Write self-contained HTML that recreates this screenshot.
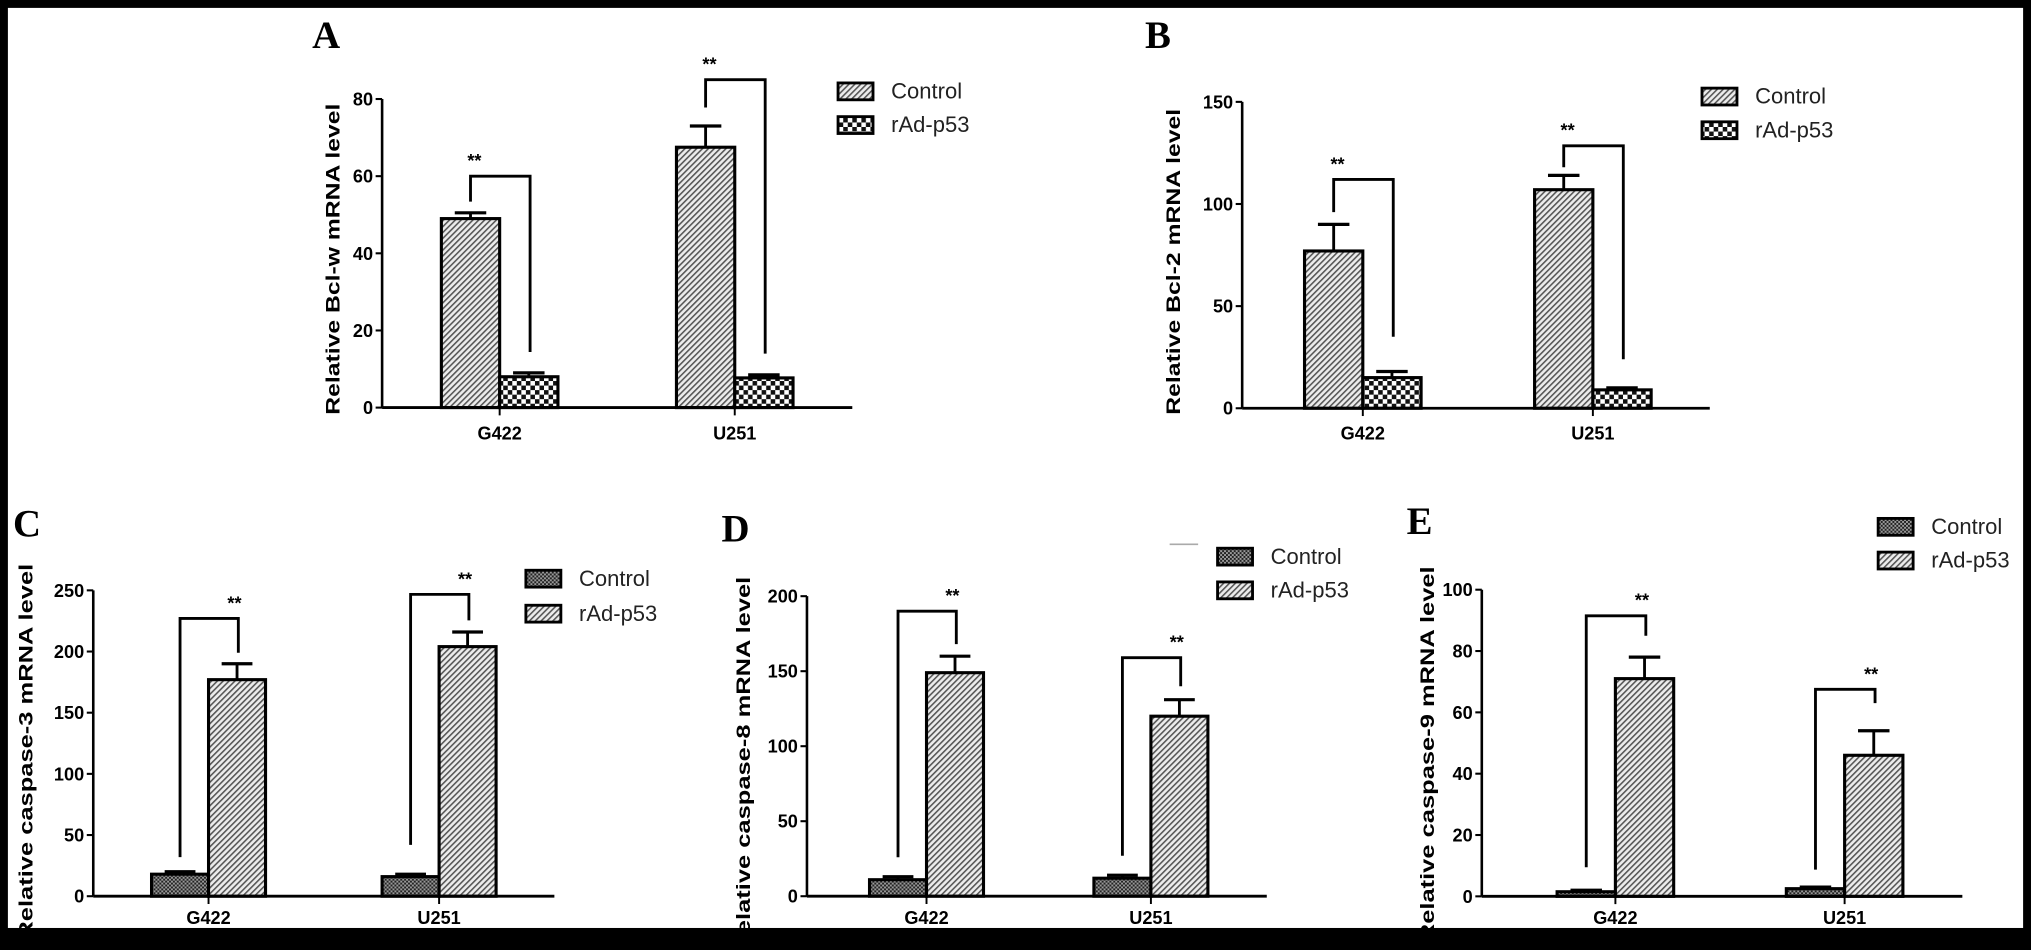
<!DOCTYPE html>
<html><head><meta charset="utf-8"><style>
html,body{margin:0;padding:0;background:#000;}
svg{display:block;}
text{font-family:"Liberation Sans",sans-serif;}
</style></head><body>
<svg id="fig" width="2031" height="950" viewBox="0 0 1568 733" preserveAspectRatio="none" xmlns="http://www.w3.org/2000/svg">
<defs>
<pattern id="hatch" patternUnits="userSpaceOnUse" width="3.2" height="3.2" patternTransform="rotate(45)">
<rect width="3.2" height="3.2" fill="#ececec"/><rect width="1.2" height="3.2" fill="#555"/>
</pattern>
<pattern id="checker" patternUnits="userSpaceOnUse" width="7" height="7">
<rect width="7" height="7" fill="#fff"/><rect width="3.5" height="3.5" fill="#111"/><rect x="3.5" y="3.5" width="3.5" height="3.5" fill="#111"/>
</pattern>
<pattern id="cross" patternUnits="userSpaceOnUse" width="3" height="3">
<rect width="3" height="3" fill="#999"/><rect width="1.5" height="1.5" fill="#222"/><rect x="1.5" y="1.5" width="1.5" height="1.5" fill="#222"/>
</pattern>
</defs>
<rect x="6" y="6" width="1556" height="710" fill="#fff"/>
</svg>
<script>
// ---- data ----
const categories = ["G422", "U251"];
const seriesNames = ["Control", "rAd-p53"];
const aControl = [49, 67.5];   const aControlErr = [50.5, 73];
const aP53 = [8, 7.7];         const aP53Err = [9, 8.5];
const aTicks = [0, 20, 40, 60, 80];
const bControl = [77, 107];    const bControlErr = [90, 114];
const bP53 = [15, 9];          const bP53Err = [18, 10];
const bTicks = [0, 50, 100, 150];
const cControl = [18, 16];     const cControlErr = [20, 18];
const cP53 = [177, 204];       const cP53Err = [190, 216];
const cTicks = [0, 50, 100, 150, 200, 250];
const dControl = [11, 12];     const dControlErr = [13, 14];
const dP53 = [149, 120];       const dP53Err = [160, 131];
const dTicks = [0, 50, 100, 150, 200];
const eControl = [1.5, 2.5];   const eControlErr = [2, 3];
const eP53 = [71, 46];         const eP53Err = [78, 54];
const eTicks = [0, 20, 40, 60, 80, 100];
// significance brackets in data units: [top, leftBottom, rightBottom]
const aSig = [[60, 53.4, 14.4], [85, 77.8, 14]];
const bSig = [[112, 96, 35], [128.5, 118, 24]];
const cSig = [[227, 32, 199], [246.7, 42, 225.5]];
const dSig = [[190, 26, 168], [159, 27, 140]];
const eSig = [[91.5, 9.5, 85], [67.5, 8.7, 63]];

const NS = "http://www.w3.org/2000/svg";
const svg = document.getElementById("fig");
function mk(tag, attrs, parent, txt) {
  const e = document.createElementNS(NS, tag);
  for (const k in attrs) e.setAttribute(k, attrs[k]);
  if (txt !== undefined) e.textContent = txt;
  (parent || svg).appendChild(e);
  return e;
}

const panels = [
  {id:"a", letter:"A", lx:241, ly:37, x0:295, x1:658, y0:314.5, ymax:80, yTop:76.4, cf:[0.25,0.75], bw:45,
   ctrl:aControl, ctrlErr:aControlErr, p53:aP53, p53Err:aP53Err, ticks:aTicks, sig:aSig,
   fills:["url(#hatch)","url(#checker)"], title:"Relative Bcl-w mRNA level", tcx:257, tcy:200, tlen:240,
   legX:647, legY:[64,90], xlabY:339},
  {id:"b", letter:"B", lx:884, ly:37, x0:959, x1:1320, y0:315, ymax:150, yTop:78.6, cf:[0.258,0.75], bw:45,
   ctrl:bControl, ctrlErr:bControlErr, p53:bP53, p53Err:bP53Err, ticks:bTicks, sig:bSig,
   fills:["url(#hatch)","url(#checker)"], title:"Relative Bcl-2 mRNA level", tcx:906, tcy:202, tlen:236,
   legX:1314, legY:[68,94], xlabY:339},
  {id:"c", letter:"C", lx:10, ly:414, x0:72, x1:428, y0:691.5, ymax:250, yTop:455.5, cf:[0.25,0.75], bw:44,
   ctrl:cControl, ctrlErr:cControlErr, p53:cP53, p53Err:cP53Err, ticks:cTicks, sig:cSig,
   fills:["url(#cross)","url(#hatch)"], title:"Relative caspase-3 mRNA level", tcx:20, tcy:580, tlen:290,
   legX:406, legY:[440,467], xlabY:713},
  {id:"d", letter:"D", lx:557, ly:418, x0:623, x1:978, y0:691.5, ymax:200, yTop:460, cf:[0.26,0.748], bw:44,
   ctrl:dControl, ctrlErr:dControlErr, p53:dP53, p53Err:dP53Err, ticks:dTicks, sig:dSig,
   fills:["url(#cross)","url(#hatch)"], title:"Relative  caspase-8 mRNA level", tcx:574, tcy:590, tlen:290,
   legX:940, legY:[423,449], xlabY:713},
  {id:"e", letter:"E", lx:1086, ly:412, x0:1144, x1:1515, y0:691.6, ymax:100, yTop:455, cf:[0.278,0.755], bw:45,
   ctrl:eControl, ctrlErr:eControlErr, p53:eP53, p53Err:eP53Err, ticks:eTicks, sig:eSig,
   fills:["url(#cross)","url(#hatch)"], title:"Relative  caspase-9 mRNA level", tcx:1102, tcy:582, tlen:290,
   legX:1450, legY:[400,426], xlabY:713}
];

panels.forEach(p => {
  const g = mk("g", {});
  
  
  const ys = v => p.y0 - (v / p.ymax) * (p.y0 - p.yTop);
  const xs = i => p.x0 + p.cf[i] * (p.x1 - p.x0);

  const L = mk("text", {x:p.lx, y:p.ly, "font-size":30, "font-weight":"bold", style:'font-family:"Liberation Serif",serif'}, g, p.letter);
  
  

  categories.forEach((c, i) => {
    const cx = xs(i);
    [[p.ctrl, p.ctrlErr, -1], [p.p53, p.p53Err, 0]].forEach((s, si) => {
      const bx = cx + s[2] * p.bw;
      const top = ys(s[0][i]);
      const eTop = ys(s[1][i]);
      const ex = bx + p.bw / 2;
      const el = mk("line", {x1:ex, x2:ex, y1:top, y2:eTop, stroke:"#000", "stroke-width":2.2}, g);
      
      
      const cap = mk("line", {x1:ex - p.bw * 0.27, x2:ex + p.bw * 0.27, y1:eTop, y2:eTop, stroke:"#000", "stroke-width":2.5}, g);
      
      
      const r = mk("rect", {x:bx, y:top, width:p.bw, height:Math.max(0, p.y0 - top), fill:p.fills[si], stroke:"#000", "stroke-width":2.4}, g);
      
      
    });
    const s = p.sig[i];
    const lx = cx - p.bw / 2, rx = cx + p.bw / 2 + 1;
    const br = mk("polyline", {points:`${lx},${ys(s[1])} ${lx},${ys(s[0])} ${rx},${ys(s[0])} ${rx},${ys(s[2])}`, fill:"none", stroke:"#000", "stroke-width":2.2}, g);
    
    
    const starX = p.id === "a" || p.id === "b" ? lx + 3 : rx - 3;
    const st = mk("text", {x:starX, y:ys(s[0]) - 7, "font-size":14, "font-weight":"bold", "text-anchor":"middle"}, g, "**");
    
    
    const xl = mk("text", {x:cx, y:p.xlabY, "font-size":14, "font-weight":"bold", "text-anchor":"middle"}, g, c);
    
    
    const xt = mk("line", {x1:cx, x2:cx, y1:p.y0, y2:p.y0 + 6, stroke:"#000", "stroke-width":1.5}, g);
    
    
  });

  const ya = mk("line", {x1:p.x0, x2:p.x0, y1:p.yTop, y2:p.y0, stroke:"#000", "stroke-width":2}, g);
  
  
  const xa = mk("line", {x1:p.x0, x2:p.x1, y1:p.y0, y2:p.y0, stroke:"#000", "stroke-width":2.2}, g);
  
  
  p.ticks.forEach(t => {
    const y = ys(t);
    const tk = mk("line", {x1:p.x0 - 5, x2:p.x0, y1:y, y2:y, stroke:"#000", "stroke-width":1.6}, g);
    
    
    const tl = mk("text", {x:p.x0 - 7, y:y + 5, "font-size":14, "font-weight":"bold", "text-anchor":"end"}, g, String(t));
    
    
  });
  const yt = mk("text", {x:0, y:0, "font-size":15, "font-weight":"bold", "text-anchor":"middle", textLength:p.tlen, lengthAdjust:"spacingAndGlyphs",
    transform:`translate(${p.tcx + 5},${p.tcy}) rotate(-90)`}, g, p.title);
  
  

  seriesNames.forEach((n, si) => {
    const lg = mk("g", {}, g);
    
    
    mk("rect", {x:p.legX, y:p.legY[si], width:27, height:13, fill:p.fills[si], stroke:"#000", "stroke-width":2.2}, lg);
    mk("text", {x:p.legX + 41, y:p.legY[si] + 12, "font-size":17, fill:"#222"}, lg, n);
  });
});
const gl = mk("line", {x1:903, x2:925, y1:420, y2:420, stroke:"#aaa", "stroke-width":1.2});


[[0,0,1568,6],[0,717,1568,16],[0,0,6,733],[1562,0,6,733]].forEach((r, i) => {
  const f = mk("rect", {x:r[0], y:r[1], width:r[2], height:r[3], fill:"#000"});
  
  
});
</script>
</body></html>
